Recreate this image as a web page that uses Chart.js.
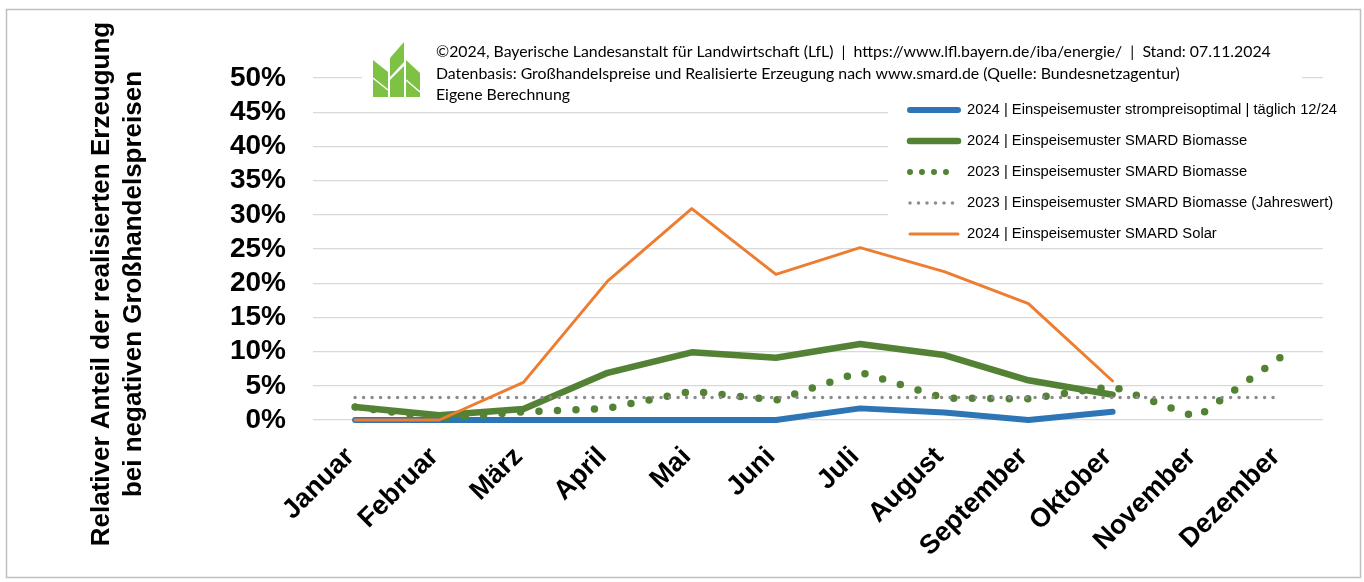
<!DOCTYPE html>
<html>
<head>
<meta charset="utf-8">
<script src="https://cdn.jsdelivr.net/npm/chart.js@4/dist/chart.umd.min.js"></script>
<style>
  html, body { margin: 0; padding: 0; background: #fff; }
  #wrap { width: 1364px; height: 582px; position: relative; }
</style>
</head>
<body>
<div id="wrap"><canvas id="chart" width="1364" height="582"></canvas></div>
<script>
// Monatswerte in Prozent
const months = ['Januar', 'Februar', 'März', 'April', 'Mai', 'Juni', 'Juli', 'August', 'September', 'Oktober', 'November', 'Dezember'];
const optimal2024 = [0, 0, 0, 0, 0, 0, 1.7, 1.1, 0, 1.2, null, null];
const biomasse2024 = [1.9, 0.7, 1.6, 6.9, 9.9, 9.1, 11.1, 9.5, 5.8, 3.7, null, null];
const biomasse2023 = [1.9, 0.2, 1.2, 1.7, 4.2, 2.9, 7.0, 3.2, 3.1, 4.9, 0.4, 9.2];
const jahreswert2023 = [3.3, 3.3, 3.3, 3.3, 3.3, 3.3, 3.3, 3.3, 3.3, 3.3, 3.3, 3.3];
const solar2024 = [0, 0, 5.5, 20.3, 30.9, 21.3, 25.2, 21.7, 17.0, 5.7, null, null];
const yTicks = [0, 5, 10, 15, 20, 25, 30, 35, 40, 45, 50];

const headerLines = [
  '©2024, Bayerische Landesanstalt für Landwirtschaft (LfL)  |  https://www.lfl.bayern.de/iba/energie/  |  Stand: 07.11.2024',
  'Datenbasis: Großhandelspreise und Realisierte Erzeugung nach www.smard.de (Quelle: Bundesnetzagentur)',
  'Eigene Berechnung'
];
const yTitle = ['Relativer Anteil der realisierten Erzeugung', 'bei negativen Großhandelspreisen'];

const datasets = [
  { label: '2024 | Einspeisemuster strompreisoptimal | täglich 12/24', data: optimal2024,
    borderColor: '#2e75b6', borderWidth: 6, borderCapStyle: 'round', order: 5 },
  { label: '2024 | Einspeisemuster SMARD Biomasse', data: biomasse2024,
    borderColor: '#548235', borderWidth: 6.5, borderCapStyle: 'round', order: 4 },
  { label: '2023 | Einspeisemuster SMARD Biomasse', data: biomasse2023,
    borderColor: '#548235', borderWidth: 7.5, borderCapStyle: 'round', borderDash: [0, 18.5], order: 3 },
  { label: '2023 | Einspeisemuster SMARD Biomasse (Jahreswert)', data: jahreswert2023,
    borderColor: '#8c8c8c', borderWidth: 3.5, borderCapStyle: 'round', borderDash: [0, 8.5], order: 2 },
  { label: '2024 | Einspeisemuster SMARD Solar', data: solar2024,
    borderColor: '#ed7d31', borderWidth: 3, borderCapStyle: 'round', order: 1 }
];
datasets.forEach(d => {
  d.pointRadius = 0;
  d.tension = 0;
  d.fill = false;
  d.clip = false;
  d.borderJoinStyle = 'round';
});

const decorations = {
  id: 'decorations',
  afterDraw(chart) {
    const ctx = chart.ctx;
    ctx.save();

    // weisse Flaechen fuer Kopf und Legende
    ctx.fillStyle = '#fff';
    ctx.fillRect(362, 34, 940, 71);
    ctx.fillRect(888, 96, 460, 150);

    // Logo
    ctx.fillStyle = '#7dc242';
    const leaves = [
      [[373, 60], [388, 72], [388, 97], [373, 97]],
      [[390, 58], [404, 42], [404, 62], [390, 77]],
      [[390, 80], [404, 66], [404, 97], [390, 97]],
      [[406, 60], [420, 73], [420, 97], [406, 97]]
    ];
    leaves.forEach(p => {
      ctx.beginPath();
      ctx.moveTo(p[0][0], p[0][1]);
      p.slice(1).forEach(pt => ctx.lineTo(pt[0], pt[1]));
      ctx.closePath();
      ctx.fill();
    });
    ctx.strokeStyle = '#fff';
    ctx.lineWidth = 1.5;
    ctx.beginPath();
    ctx.moveTo(373, 78); ctx.lineTo(388, 90);
    ctx.moveTo(406, 80); ctx.lineTo(420, 92);
    ctx.stroke();

    // Kopftext, auf Breite der Vorlage gebracht
    ctx.fillStyle = '#000';
    ctx.font = '14px Lato';
    const scale = 835 / ctx.measureText(headerLines[0]).width;
    ctx.font = (14 * scale).toFixed(2) + 'px Lato';
    ctx.textBaseline = 'middle';
    ctx.textAlign = 'left';
    headerLines.forEach((t, i) => ctx.fillText(t, 436, 52 + i * 21.5));

    // Legende
    ctx.font = '14.75px "Liberation Sans", Arial';
    datasets.forEach((d, i) => {
      const y = 110 + i * 31;
      ctx.save();
      ctx.strokeStyle = d.borderColor;
      ctx.lineWidth = d.borderDash ? Math.min(d.borderWidth, 6) : d.borderWidth;
      ctx.lineCap = 'round';
      ctx.setLineDash(d.borderDash ? [0, d.borderWidth > 4 ? 12 : 8.5] : []);
      ctx.beginPath();
      ctx.moveTo(910, y);
      ctx.lineTo(958, y);
      ctx.stroke();
      ctx.restore();
      ctx.fillStyle = '#000';
      ctx.fillText(d.label, 967, y);
    });

    // Achsentitel
    ctx.save();
    ctx.translate(118, 284);
    ctx.rotate(-Math.PI / 2);
    ctx.font = 'bold 26px "Liberation Sans", Arial';
    ctx.textAlign = 'center';
    ctx.fillText(yTitle[0], 0, -16);
    ctx.fillText(yTitle[1], 0, 16);
    ctx.restore();

    // Rahmen
    ctx.strokeStyle = '#bfbfbf';
    ctx.lineWidth = 1.5;
    ctx.strokeRect(6.5, 9.5, 1354, 568);
    ctx.restore();
  }
};

new Chart(document.getElementById('chart'), {
  type: 'line',
  data: { labels: months, datasets: datasets },
  options: {
    responsive: false,
    animation: false,
    layout: { padding: { left: 0, top: 78, right: 41, bottom: 0 } },
    plugins: { legend: { display: false }, tooltip: { enabled: false } },
    scales: {
      x: {
        offset: true,
        grid: { display: false },
        border: { display: false },
        ticks: {
          autoSkip: false, maxRotation: 45, minRotation: 45, padding: 13, labelOffset: -5,
          color: '#000', font: { family: '"Liberation Sans", Arial', size: 27, weight: 'bold' }
        },
        afterFit: s => { s.height = 162; }
      },
      y: {
        min: 0, max: 50,
        afterBuildTicks: s => { s.ticks = yTicks.map(v => ({ value: v })); },
        grid: { color: '#d9d9d9', lineWidth: 1.3, drawTicks: false },
        border: { display: false },
        ticks: {
          autoSkip: false, padding: 27, color: '#000',
          font: { family: '"Liberation Sans", Arial', size: 28, weight: 'bold' },
          callback: v => v + '%'
        },
        afterFit: s => { s.width = 313; }
      }
    }
  },
  plugins: [decorations]
});
</script>
</body>
</html>
